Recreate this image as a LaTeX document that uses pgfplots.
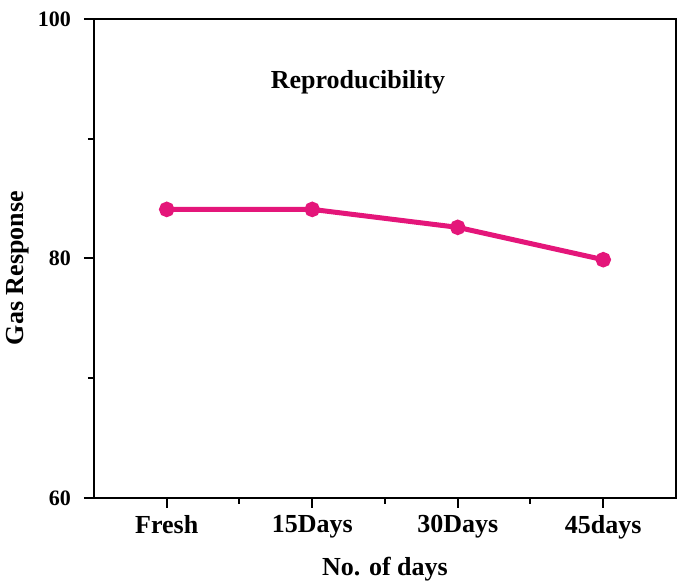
\documentclass[border=0pt]{standalone}
\usepackage{fontspec}
\setmainfont{Liberation Serif}
\usepackage{pgfplots}
\pgfplotsset{compat=1.18}
\definecolor{lineclr}{RGB}{228,22,122}

\begin{document}
\begin{tikzpicture}
	\begin{axis}[
		name=ax,
		scale only axis,
		width=291pt,
		height=239.5pt,
		xmin=0.5, xmax=4.5,
		ymin=60, ymax=100,
		xtick={1,2,3,4},
		xticklabels={Fresh,15Days,30Days,45days},
		minor xtick={1.5,2.5,3.5},
		ytick={60,80,100},
		minor ytick={70,90},
		tick pos=left,
		tick align=outside,
		major tick length=5pt,
		minor tick length=3pt,
		axis line style={line width=1pt},
		every tick/.style={black, line width=1pt},
		/pgf/number format/assume math mode=true,
		ticklabel style={font=\fontsize{11}{13}\selectfont\bfseries},
		yticklabel style={xshift=-3pt},
		xticklabel style={font=\fontsize{13}{15}\selectfont\bfseries, yshift=0pt},
		xlabel={No. of days},
		ylabel={Gas Response},
		label style={font=\fontsize{13}{15}\selectfont\bfseries},
		xlabel style={at={(axis description cs:0.5,-0.148)}, anchor=center},
		ylabel style={at={(axis description cs:-0.1306,0.48)}, anchor=center},
	]
		\addplot[lineclr, line width=2.5pt, mark=*, mark size=2.6pt,
			mark options={fill=lineclr, draw=lineclr}] coordinates {
			(1, 84.1)
			(2, 84.1)
			(3, 82.6)
			(4, 79.9)
		};
		\node[font=\fontsize{13}{15}\selectfont\bfseries] at (axis description cs:0.4536,0.868) {Reproducibility};
	\end{axis}
	\pgfresetboundingbox
	\path ([shift={(-47pt,-44.5pt)}]ax.south west) rectangle ([shift={(4.5pt,9.5pt)}]ax.north east);
\end{tikzpicture}
\end{document}
